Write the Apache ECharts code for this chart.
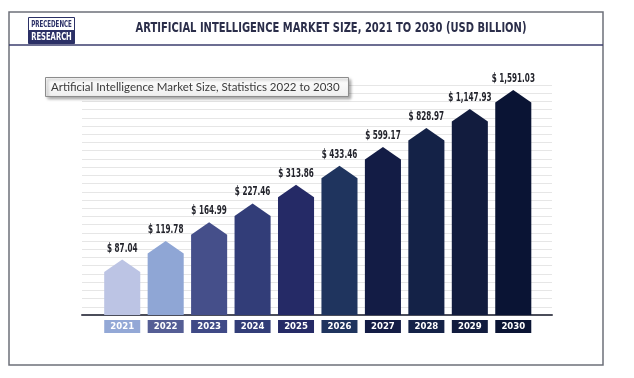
<!DOCTYPE html>
<html><head><meta charset="utf-8">
<script src="https://cdn.jsdelivr.net/npm/echarts@6/dist/echarts.min.js"></script>
<style>html,body{margin:0;padding:0;background:#fff}#c{width:634px;height:378px}</style>
</head><body><div id="c"></div>
<script>
const categories = ['2021','2022','2023','2024','2025','2026','2027','2028','2029','2030'];
const marketSize = [87.04, 119.78, 164.99, 227.46, 313.86, 433.46, 599.17, 828.97, 1147.93, 1591.03];
const barColors = ['#bcc4e4','#8fa6d5','#454f8a','#323d78','#252a66','#1f345e','#131c45','#142247','#121c3e','#0a1434'];
const tagColors = ['#93a8d6','#555e95','#3f4986','#323d78','#252a66','#1f345e','#131c45','#142247','#121c3e','#0a1434'];
const titleText = 'ARTIFICIAL INTELLIGENCE MARKET SIZE, 2021 TO 2030 (USD BILLION)';
const subtitleText = 'Artificial Intelligence Market Size, Statistics 2022 to 2030';
const yMin = 33.65, yMax = 1732;

const NARROW = "'Liberation Sans Narrow','DejaVu Sans Condensed',sans-serif";
const chart = echarts.init(document.getElementById('c'), null, {renderer:'canvas'});
const rich = {};
tagColors.forEach((c,i)=>{ rich['c'+i] = {backgroundColor:c, color:'#fff', width:36, height:13, lineHeight:13, align:'center', fontFamily:NARROW, fontWeight:'bold', fontSize:9.5}; });

chart.setOption({
  animation:false,
  grid:[
    {left:82, right:82, top:85, bottom:63},
    {left:100.5, right:99, top:85, bottom:63}
  ],
  xAxis:[
    {gridIndex:0, type:'value', min:0, max:1, axisLabel:{show:false}, axisTick:{show:false}, splitLine:{show:false},
     axisLine:{show:true, lineStyle:{color:'#4b4d5a', width:2}}},
    {gridIndex:1, type:'category', data:categories, axisLine:{show:false}, axisTick:{show:false},
     axisLabel:{margin:5, interval:0, formatter:(v,i)=>'{c'+i+'|'+v+'}', rich:rich}}
  ],
  yAxis:[
    {gridIndex:0, type:'value', min:0, max:28, interval:1, axisLabel:{show:false}, axisLine:{show:false}, axisTick:{show:false},
     splitLine:{show:true, lineStyle:{color:'#e6e6e6', width:1}}},
    {gridIndex:1, type:'log', min:yMin, max:yMax, show:false, splitLine:{show:false}}
  ],
  series:[{
    type:'custom', xAxisIndex:1, yAxisIndex:1,
    data: marketSize.map((v,i)=>[i,v]),
    renderItem:(params, api)=>{
      const i = api.value(0), v = api.value(1);
      const tip = api.coord([i, v]);
      const base = api.coord([i, yMin]);
      const w = api.size([1,0])[0]*0.83;
      const x0 = tip[0]-w/2, x1 = tip[0]+w/2, sh = tip[1]+12.5;
      return {type:'group', children:[
        {type:'polygon', shape:{points:[[x0,base[1]],[x0,sh],[tip[0],tip[1]],[x1,sh],[x1,base[1]]]}, style:{fill:barColors[i]}},
        {type:'text', x:tip[0], y:tip[1]-5, scaleX:0.7, style:{text:'$ '+v.toLocaleString('en-US',{minimumFractionDigits:2, maximumFractionDigits:2}),
          align:'center', verticalAlign:'bottom', fill:'#23242c', font:"bold 11.5px "+NARROW}}
      ]};
    }
  }],
  graphic:[
    {type:'rect', shape:{x:9, y:12, width:594, height:353}, style:{fill:'none', stroke:'#6d707a', lineWidth:1.5}, z:1},
    {type:'line', shape:{x1:9, y1:45, x2:603, y2:45}, style:{stroke:'#3b3e6e', lineWidth:1.5}, z:2},
    {type:'rect', shape:{x:28.5, y:17.5, width:46, height:13}, style:{fill:'#fff', stroke:'#2b3066', lineWidth:1}, z:3},
    {type:'rect', shape:{x:28.5, y:30.5, width:46, height:13}, style:{fill:'#2b3066', stroke:'#2b3066', lineWidth:1}, z:3},
    {type:'text', x:51.5, y:24.5, scaleX:0.72, style:{text:'PRECEDENCE', align:'center', verticalAlign:'middle', fill:'#2b3066', font:"bold 8.5px "+NARROW}, z:4},
    {type:'text', x:51.5, y:37.5, scaleX:0.72, style:{text:'RESEARCH', align:'center', verticalAlign:'middle', fill:'#fff', font:"bold 10.5px "+NARROW}, z:4},
    {type:'text', x:331, y:28, scaleX:0.79, style:{text:titleText, align:'center', verticalAlign:'middle', fill:'#2b2e4a', font:"bold 14px "+NARROW}, z:4},
    {type:'rect', shape:{x:45.5, y:77.5, width:303, height:19}, z:10,
      style:{fill:new echarts.graphic.LinearGradient(0,0,0,1,[{offset:0,color:'#ffffff'},{offset:1,color:'#eeeeee'}]),
             stroke:'#8c8c8c', lineWidth:1, shadowBlur:3, shadowOffsetX:2, shadowOffsetY:2, shadowColor:'rgba(0,0,0,0.35)'}},
    {type:'text', x:51, y:87.5, z:11, style:{text:subtitleText, align:'left', verticalAlign:'middle', fill:'#3a3a3a', font:"11.5px Lato, 'Open Sans', sans-serif"}}
  ]
});
</script></body></html>
